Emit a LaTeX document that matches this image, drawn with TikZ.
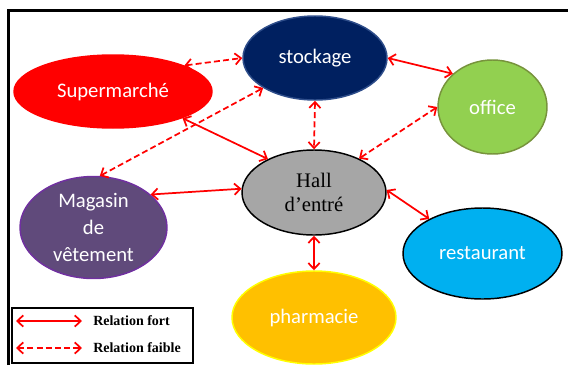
\documentclass[tikz,border=0pt]{standalone}
\usepackage{fontspec}
\setmainfont{Liberation Serif}
\newfontfamily\calibri{Carlito}
\usepackage{xcolor}
\usepackage{tikz}
\usetikzlibrary{positioning,shapes,arrows.meta}
\definecolor{navy}{HTML}{002060}
\definecolor{navyedge}{HTML}{2E4D8A}
\definecolor{market}{HTML}{FF0000}
\definecolor{leaf}{HTML}{92D050}
\definecolor{leafedge}{HTML}{77933C}
\definecolor{hallgray}{HTML}{A6A6A6}
\definecolor{plum}{HTML}{604A7B}
\definecolor{plumedge}{HTML}{7030A0}
\definecolor{sky}{HTML}{00B0F0}
\definecolor{amber}{HTML}{FFC000}
\definecolor{amberedge}{HTML}{FFFF00}
\definecolor{link}{HTML}{FF0000}
\tikzset{
    zone/.style={ellipse, draw, line width=1.1pt, inner sep=0pt, align=center, text=white, font=\calibri\fontsize{15.5}{20}\selectfont},
    strong/.style={{Straight Barb[length=4.5pt,width=8.5pt]}-{Straight Barb[length=4.5pt,width=8.5pt]}, line width=1.3pt, color=link},
    weak/.style={strong, dash pattern=on 4.5pt off 2.4pt},
    legendbox/.style={rectangle, draw, line width=1.5pt, minimum width=135.75pt, minimum height=41.25pt},
    legendtext/.style={anchor=west, inner sep=0pt, font=\bfseries\fontsize{10.5}{12}\selectfont}
}

\begin{document}
\begin{tikzpicture}[x=0.75pt, y=-0.75pt]
\useasboundingbox (0,0) rectangle (568,365);

% Frame
\draw[line width=2.25pt] (8.5,365) -- (8.5,10.5) -- (568,10.5);

% Zones
\node[zone, fill=navy, draw=navyedge, minimum width=108pt, minimum height=63pt] (stock) at (315,58) {stockage};
\node[zone, fill=market, draw=market, minimum width=148.5pt, minimum height=54.75pt] (market) at (113,91.5) {Supermarché};
\node[zone, fill=leaf, draw=leafedge, minimum width=81.75pt, minimum height=70.5pt] (office) at (492.5,107) {office};
\node[zone, fill=hallgray, draw=black, text=black, font=\rmfamily\fontsize{15.5}{18.5}\selectfont, minimum width=108pt, minimum height=63.75pt] (hall) at (314,192.5) {Hall\\d’entré};
\node[zone, fill=plum, draw=plumedge, minimum width=110.25pt, minimum height=76.5pt] (shop) at (93.5,227.5) {Magasin\\de\\vêtement};
\node[zone, fill=sky, draw=black, minimum width=119.25pt, minimum height=68.25pt] (resto) at (482.5,253.5) {restaurant};
\node[zone, fill=amber, draw=amberedge, minimum width=123pt, minimum height=69.75pt] (pharma) at (314,317.5) {pharmacie};

% Relations
\draw[weak] (market.20) -- (stock.180);
\draw[strong] (stock.0) -- (office.140);
\draw[strong] (market.-21) -- (hall.144);
\draw[weak] (shop.83) -- (stock.210);
\draw[weak] (stock.south) -- (hall.north);
\draw[weak] (office.180) -- (hall.37);
\draw[strong] (shop.30) -- (hall.177);
\draw[strong] (hall.2) -- (resto.147);
\draw[strong] (hall.south) -- (pharma.north);

% Legend
\node[legendbox] (legend) at (102.5,335.5) {};
\coordinate (fortA) at (16,321);
\coordinate (fortB) at (82,321);
\coordinate (faibleA) at (16,348);
\coordinate (faibleB) at (82,348);
\draw[strong] (fortA) -- (fortB);
\draw[weak] (faibleA) -- (faibleB);
\node[legendtext, right=8.25pt of fortB] (fort) {Relation fort};
\node[legendtext, right=8.25pt of faibleB] (faible) {Relation faible};

\end{tikzpicture}
\end{document}
